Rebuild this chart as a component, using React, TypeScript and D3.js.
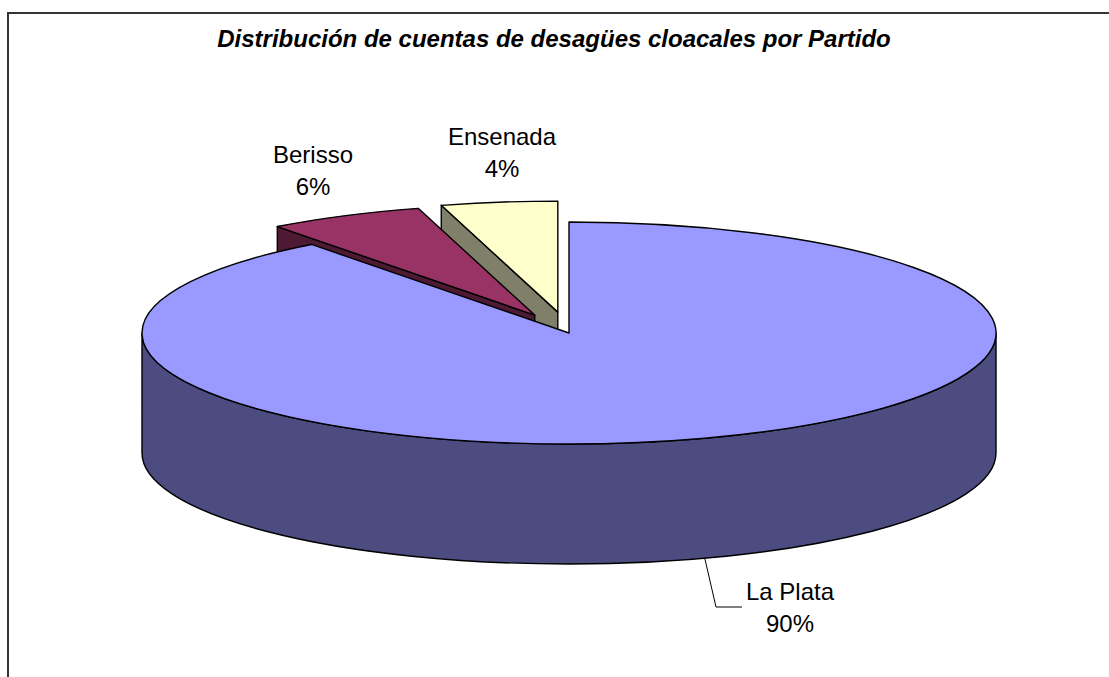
import * as d3 from "d3";

const categories = ["La Plata", "Berisso", "Ensenada"];
// shares; printed labels are rounded
const shares = [89.7, 5.9, 4.4];
const pctLabels = ["90%", "6%", "4%"];
const title = "Distribución de cuentas de desagües cloacales por Partido";

const topColors = ["#9999FF", "#993366", "#FFFFCC"];
const sideColors = ["#4C4C80", "#4D1933", "#80806A"];
const explode = [0, 0.18, 0.19];
// label anchor (center x, first baseline y)
const labelAnchors: [number, number][] = [
  [790, 600],
  [313, 163],
  [502, 145],
];

const W = 1109;
const H = 677;
const cx = 569;
const cy = 333;
const rx = 427;
const ry = 111;
const depth = 120;

export default function App() {
  const arcs = d3
    .pie<number>()
    .sort(null)
    .value((d) => d)(shares);

  const slices = arcs.map((a, i) => {
    const mid = (a.startAngle + a.endAngle) / 2;
    const ox = explode[i] * rx * Math.sin(mid);
    const oy = -explode[i] * ry * Math.cos(mid);
    const pt = (ang: number, z: number): [number, number] => [
      cx + ox + rx * Math.sin(ang),
      cy + oy - ry * Math.cos(ang) + z,
    ];
    const c0: [number, number] = [cx + ox, cy + oy];
    const a0 = a.startAngle;
    const a1 = a.endAngle;
    const large = a1 - a0 > Math.PI ? 1 : 0;
    const p0 = pt(a0, 0);
    const p1 = pt(a1, 0);
    const top = `M${c0[0]},${c0[1]}L${p0[0]},${p0[1]}A${rx},${ry} 0 ${large} 1 ${p1[0]},${p1[1]}Z`;

    const walls: string[] = [];
    const radial = (ang: number) => {
      const p = pt(ang, 0);
      const q = pt(ang, depth);
      return `M${c0[0]},${c0[1]}L${p[0]},${p[1]}L${q[0]},${q[1]}L${c0[0]},${c0[1] + depth}Z`;
    };
    if (Math.sin(a0) < -1e-6) walls.push(radial(a0));
    if (Math.sin(a1) > 1e-6) walls.push(radial(a1));
    // outer curved wall: front half only
    const b0 = Math.max(a0, Math.PI / 2);
    const b1 = Math.min(a1, (3 * Math.PI) / 2);
    if (b1 > b0) {
      const s0 = pt(b0, 0);
      const s1 = pt(b1, 0);
      const t0 = pt(b0, depth);
      const t1 = pt(b1, depth);
      walls.push(
        `M${s0[0]},${s0[1]}A${rx},${ry} 0 0 1 ${s1[0]},${s1[1]}L${t1[0]},${t1[1]}A${rx},${ry} 0 0 0 ${t0[0]},${t0[1]}Z`,
      );
    }
    return { i, mid, top, walls, pt };
  });

  // back slices first
  const order = [...slices].sort((p, q) => -Math.cos(p.mid) + Math.cos(q.mid));

  const main = slices[0];
  const leadStart = main.pt(main.mid, depth);
  const [lx, ly] = labelAnchors[0];

  return (
    <svg
      width={W}
      height={H}
      style={{ position: "absolute", left: 0, top: 0, background: "#fff" }}
      fontFamily="'Liberation Sans', Arial, sans-serif"
    >
      <rect x={8} y={13} width={1300} height={900} fill="#fff" stroke="#333" strokeWidth={2} />
      <text
        x={554}
        y={47}
        textAnchor="middle"
        fontSize={24}
        fontWeight="bold"
        fontStyle="italic"
        fill="#000"
      >
        {title}
      </text>

      {order.map((s) =>
        s.walls.map((d, k) => (
          <path
            key={`w${s.i}-${k}`}
            d={d}
            fill={sideColors[s.i]}
            stroke="#000"
            strokeWidth={1.4}
            strokeLinejoin="round"
          />
        )),
      )}
      {order.map((s) => (
        <path
          key={`t${s.i}`}
          d={s.top}
          fill={topColors[s.i]}
          stroke="#000"
          strokeWidth={1.4}
          strokeLinejoin="round"
        />
      ))}

      <polyline
        points={`${leadStart[0]},${leadStart[1]} ${lx - 74},${ly + 7} ${lx - 48},${ly + 7}`}
        fill="none"
        stroke="#000"
        strokeWidth={1}
      />

      {categories.map((c, i) => (
        <text key={c} textAnchor="middle" fontSize={24} fill="#000">
          <tspan x={labelAnchors[i][0]} y={labelAnchors[i][1]}>
            {c}
          </tspan>
          <tspan x={labelAnchors[i][0]} y={labelAnchors[i][1] + 32}>
            {pctLabels[i]}
          </tspan>
        </text>
      ))}
    </svg>
  );
}
